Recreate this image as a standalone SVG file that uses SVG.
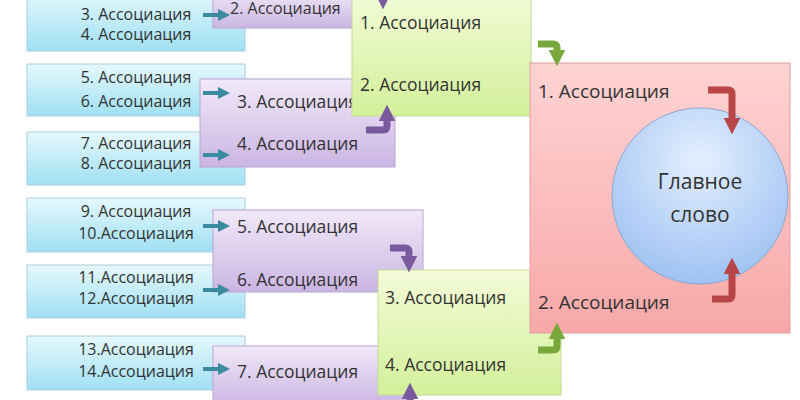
<svg xmlns="http://www.w3.org/2000/svg" width="800" height="400" viewBox="0 0 800 400">
<defs>
<linearGradient id="gb" x1="0" y1="0" x2="0" y2="1"><stop offset="0" stop-color="#e6f8fd"/><stop offset="1" stop-color="#9fe0f3"/></linearGradient>
<linearGradient id="gp" x1="0" y1="0" x2="0" y2="1"><stop offset="0" stop-color="#f1e9f8"/><stop offset="1" stop-color="#cbb5e3"/></linearGradient>
<linearGradient id="gg" x1="0" y1="0" x2="0" y2="1"><stop offset="0" stop-color="#f3fbd8"/><stop offset="1" stop-color="#d3f09a"/></linearGradient>
<linearGradient id="gr" x1="0" y1="0" x2="0" y2="1"><stop offset="0" stop-color="#ffd3d3"/><stop offset="1" stop-color="#f7a8a8"/></linearGradient>
<radialGradient id="gc" cx="0.5" cy="0.3" r="0.7"><stop offset="0" stop-color="#e4efff"/><stop offset="1" stop-color="#9ec2f2"/></radialGradient>
<marker id="mt" viewBox="0 0 10 10" refX="5" refY="5" markerWidth="3" markerHeight="3" orient="auto"><path d="M0,0L10,5L0,10z" fill="#3a8aa0"/></marker>
<marker id="mp" viewBox="0 0 10 10" refX="5" refY="5" markerWidth="2.4" markerHeight="2.4" orient="auto"><path d="M0,0L10,5L0,10z" fill="#7a5a9e"/></marker>
<marker id="mg" viewBox="0 0 10 10" refX="5" refY="5" markerWidth="2.4" markerHeight="2.4" orient="auto"><path d="M0,0L10,5L0,10z" fill="#78a83c"/></marker>
<marker id="mr" viewBox="0 0 10 10" refX="5" refY="5" markerWidth="2.4" markerHeight="2.4" orient="auto"><path d="M0,0L10,5L0,10z" fill="#b84646"/></marker>
</defs>
<style>
text{font-family:"Open Sans","Noto Sans",sans-serif;font-size:16px;fill:#333}
.b{fill:url(#gb);stroke:#a9cfdc}
.p{fill:url(#gp);stroke:#b9a6cf}
.g{fill:url(#gg);stroke:#c2d99a}
.r{fill:url(#gr);stroke:#e0a0a0}
.t{fill:none;stroke:#3a8aa0;stroke-width:4}
.ap{fill:none;stroke:#7a5a9e;stroke-width:7}
.ag{fill:none;stroke:#78a83c;stroke-width:7}
.ar{fill:none;stroke:#b84646;stroke-width:7}
.c{text-anchor:middle}
.big{font-size:17.5px}
.red{font-size:19px}
</style>
<rect width="800" height="400" fill="#fff"/>
<g id="blue1"><rect class="b" x="27" y="-10" width="218" height="61"/><text class="c" x="136" y="20">3. Ассоциация</text><text class="c" x="136" y="40">4. Ассоциация</text></g>
<g id="blue2"><rect class="b" x="27" y="64" width="218" height="52"/><text class="c" x="136" y="83">5. Ассоциация</text><text class="c" x="136" y="107">6. Ассоциация</text></g>
<g id="blue3"><rect class="b" x="27" y="132" width="218" height="53"/><text class="c" x="136" y="149">7. Ассоциация</text><text class="c" x="136" y="169">8. Ассоциация</text></g>
<g id="blue4"><rect class="b" x="27" y="198" width="218" height="54"/><text class="c" x="136" y="217">9. Ассоциация</text><text class="c" x="136" y="239">10.Ассоциация</text></g>
<g id="blue5"><rect class="b" x="27" y="265" width="218" height="53"/><text class="c" x="136" y="283">11.Ассоциация</text><text class="c" x="136" y="304">12.Ассоциация</text></g>
<g id="blue6"><rect class="b" x="27" y="336" width="218" height="54"/><text class="c" x="136" y="355">13.Ассоциация</text><text class="c" x="136" y="377">14.Ассоциация</text></g>
<g id="purple1"><rect class="p" x="213" y="-10" width="150" height="38"/><text x="230" y="14" style="font-size:16px">2. Ассоциация</text></g>
<g id="purple2"><rect class="p" x="200" y="79" width="195" height="88"/><text x="237" y="108" class="big">3. Ассоциация</text><text x="237" y="150" class="big">4. Ассоциация</text></g>
<g id="purple3"><rect class="p" x="213" y="210" width="210" height="82"/><text x="237" y="233" class="big">5. Ассоциация</text><text x="237" y="286" class="big">6. Ассоциация</text></g>
<g id="purple4"><rect class="p" x="213" y="346" width="200" height="60"/><text x="237" y="378" class="big">7. Ассоциация</text></g>
<g id="green1"><rect class="g" x="352" y="-10" width="179" height="126"/><text x="360" y="29" class="big">1. Ассоциация</text><text x="360" y="91" class="big">2. Ассоциация</text></g>
<g id="green2"><rect class="g" x="378" y="270" width="183" height="125"/><text x="385" y="304" class="big">3. Ассоциация</text><text x="385" y="371" class="big">4. Ассоциация</text></g>
<g id="red"><rect class="r" x="530" y="63" width="260" height="270"/><text x="538" y="98" class="red">1. Ассоциация</text><text x="538" y="309" class="red">2. Ассоциация</text></g>
<g id="main"><circle cx="700" cy="196" r="88" fill="url(#gc)" stroke="#8aa8d0"/><text class="c" x="700" y="189" style="font-size:21px">Главное</text><text class="c" x="700" y="222" style="font-size:21px">слово</text></g>
<g id="connectors">
<path class="t" d="M203,15H224" marker-end="url(#mt)"/>
<path class="t" d="M203,93H224" marker-end="url(#mt)"/>
<path class="t" d="M203,155H224" marker-end="url(#mt)"/>
<path class="t" d="M203,226H224" marker-end="url(#mt)"/>
<path class="t" d="M203,290H224" marker-end="url(#mt)"/>
<path class="t" d="M203,369H224" marker-end="url(#mt)"/>
<path class="ap" d="M383,-5V1" marker-end="url(#mp)"/>
<path class="ap" d="M366,130H383Q387,130 387,126V113" marker-end="url(#mp)"/>
<path class="ap" d="M390,248H405Q409,248 409,252V264" marker-end="url(#mp)"/>
<path class="ap" d="M410,400V391" marker-end="url(#mp)"/>
<path class="ag" d="M538,44H553Q557,44 557,48V58" marker-end="url(#mg)"/>
<path class="ag" d="M538,350H553Q557,350 557,346V331" marker-end="url(#mg)"/>
<path class="ar" d="M708,90H728Q732,90 732,94V126" marker-end="url(#mr)"/>
<path class="ar" d="M712,299H728Q732,299 732,295V266" marker-end="url(#mr)"/>
</g>
</svg>
